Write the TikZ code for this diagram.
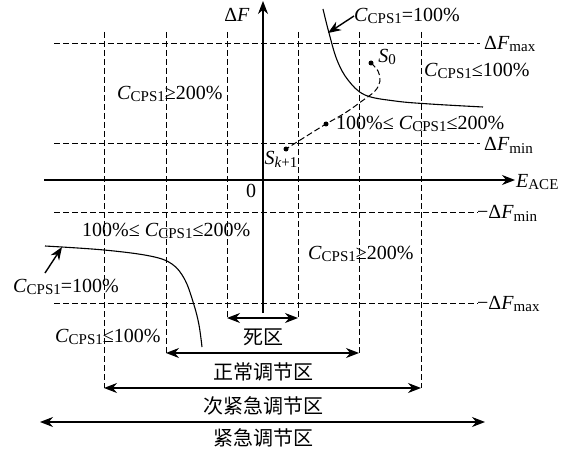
\documentclass[tikz,border=0pt]{standalone}
\usepackage{fontspec}
\setmainfont{Liberation Serif}
\newfontfamily\cjk{Noto Sans CJK SC}
\usetikzlibrary{arrows.meta}
\newcommand\lo[1]{\raisebox{-0.14em}{\fontsize{15}{15}\selectfont #1}}
\newcommand\Cc{\textit{C}\lo{CPS1}}
\newcommand\dF{Δ\textit{F}}
\begin{document}
\begin{tikzpicture}[x=1pt,y=-1pt,font=\fontsize{20}{22}\selectfont,
  axis/.style={line width=1.1pt,-{Stealth[length=13pt,width=10pt]}},
  gridl/.style={line width=0.9pt,dash pattern=on 6pt off 3pt},
  dim/.style={line width=1.1pt,{Stealth[length=13pt,width=10pt]}-{Stealth[length=13pt,width=10pt]}},
  lab/.style={inner sep=0pt,anchor=west},
  clab/.style={inner sep=0pt},
  curve/.style={line width=1.1pt},
  pointer/.style={line width=1.4pt,-{Stealth[length=13pt,width=10pt]}},
  dot/.style={circle,fill,inner sep=0pt,minimum size=5pt}]
\useasboundingbox (0,0) rectangle (563,452);

% grid coordinates
\coordinate (h1l) at (54,43);  \coordinate (h1r) at (480,43);
\coordinate (h2l) at (54,143); \coordinate (h2r) at (480,143);
\coordinate (h3l) at (54,212); \coordinate (h3r) at (478,212);
\coordinate (h4l) at (54,303); \coordinate (h4r) at (478,303);
\coordinate (v1t) at (104,32); \coordinate (v1b) at (104,388);
\coordinate (v2t) at (166,32); \coordinate (v2b) at (166,353);
\coordinate (v3t) at (227,32); \coordinate (v3b) at (227,318);
\coordinate (v4t) at (298,32); \coordinate (v4b) at (298,318);
\coordinate (v5t) at (359,32); \coordinate (v5b) at (359,353);
\coordinate (v6t) at (421,32); \coordinate (v6b) at (421,388);
\coordinate (el) at (40,422);  \coordinate (er) at (485,422);

\foreach \a/\b in {h1l/h1r,h2l/h2r,h3l/h3r,h4l/h4r,v1t/v1b,v2t/v2b,v3t/v3b,v4t/v4b,v5t/v5b,v6t/v6b}
  \draw[gridl] (\a) -- (\b);

% axes
\coordinate (xs) at (44,180); \coordinate (xe) at (515,180);
\coordinate (ys) at (263,313); \coordinate (ye) at (263,1);
\draw[axis] (xs) -- (xe);
\draw[axis] (ys) -- (ye);

% dimension arrows
\draw[dim] (v3b) -- (v4b);
\draw[dim] (v2b) -- (v5b);
\draw[dim] (v1b) -- (v6b);
\draw[dim] (el) -- (er);
\node[clab] (z1) at (263,337) {\cjk 死区};
\node[clab] (z2) at (263,372) {\cjk 正常调节区};
\node[clab] (z3) at (263,406) {\cjk 次紧急调节区};
\node[clab] (z4) at (263,438) {\cjk 紧急调节区};

% axis labels
\node[clab] (dFl) at (237,15) {\dF};
\node[clab] (zero) at (251,191) {0};
\node[lab] (eace) at (516,182) {\textit{E}\lo{ACE}};
\node[lab] (fmax) at (484,44) {\dF\lo{max}};
\node[lab] (fmin) at (484,145) {\dF\lo{min}};
\node[lab] (nfmin) at (477,213) {−\dF\lo{min}};
\node[lab] (nfmax) at (477,304) {−\dF\lo{max}};

% upper-right curve
\draw[curve] plot[smooth,tension=0.6] coordinates {(323,9) (329,33) (337,60) (348,80) (365,95) (395,101) (430,104) (483,107)};
\node[lab] (c1) at (354,16) {\Cc=100\%};
\coordinate (c1p) at (328,33);
\draw[pointer] (c1.west) -- (c1p);
\node[lab] (c2) at (424,71) {\Cc≤100\%};
\node[lab] (c3) at (336,124) {100\%≤ \Cc≤200\%};
\node[lab] (c4) at (117,94) {\Cc≥200\%};

% trajectory
\node[dot] (s0) at (371,63) {};
\node[dot] (sm) at (326,124) {};
\node[dot] (sk) at (286,149) {};
\draw[gridl,line width=1pt] plot[smooth,tension=0.6] coordinates {(s0) (378,71) (380,81) (375,91) (362,101) (345,113) (sm) (305,137) (sk)};
\node[clab] (s0l) at (387,57) {\textit{S}\lo{0}};
\node[clab] (skl) at (281,159) {\textit{S}\lo{\textit{k}+1}};

% lower-left curve
\draw[curve] plot[smooth,tension=0.6] coordinates {(45,246) (104,250) (150,256) (172,264) (185,280) (194,305) (199,325) (202,347)};
\node[lab] (c5) at (13,287) {\Cc=100\%};
\coordinate (c5s) at (45,273);
\coordinate (c5p) at (62,247);
\draw[pointer] (c5s) -- (c5p);
\node[lab] (c6) at (82,231) {100\%≤ \Cc≤200\%};
\node[lab] (c7) at (55,337) {\Cc≤100\%};
\node[lab] (c8) at (308,254) {\Cc≥200\%};
\end{tikzpicture}
\end{document}
